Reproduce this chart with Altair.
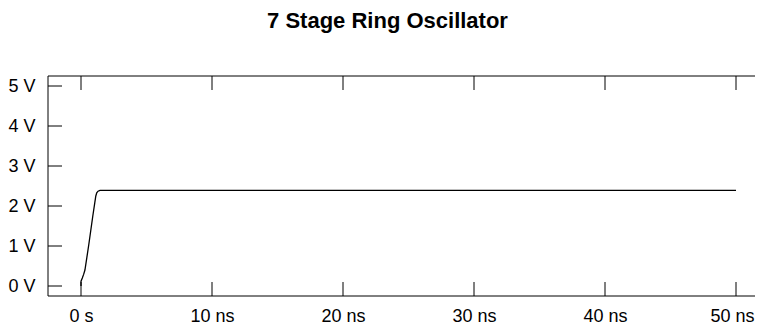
import altair as alt
import pandas as pd

# waveform samples (time in ns, voltage in V)
time_ns = [0.0, 0.0, 0.1, 0.2, 0.3, 0.45, 0.6, 0.75, 0.9, 1.05, 1.13, 1.2, 1.3, 1.45, 50.0]
volts = [0.0, 0.12, 0.2, 0.29, 0.4, 0.72, 1.05, 1.4, 1.75, 2.08, 2.25, 2.33, 2.37, 2.39, 2.39]

x_ticks = [0, 10, 20, 30, 40, 50]
y_ticks = [0, 1, 2, 3, 4, 5]

W, H = 707, 220
TL = 14  # inward tick length
FONT = "Liberation Sans"

wave = pd.DataFrame({"t": time_ns, "v": volts, "i": list(range(len(time_ns)))})
xt = pd.DataFrame({"t": x_ticks})
yt = pd.DataFrame({"v": y_ticks})
one = pd.DataFrame({"k": [0]})

xscale = alt.Scale(domain=[-2.52, 51.45], nice=False, zero=False)
yscale = alt.Scale(domain=[-0.25, 5.25], nice=False, zero=False)

xaxis = alt.Axis(values=x_ticks, title=None, ticks=False, domain=False, grid=False,
                 labelExpr="datum.value == 0 ? '0 s' : datum.value + ' ns'",
                 labelFont=FONT, labelFontSize=18, labelColor="black", labelPadding=11,
                 labelOffset={"condition": {"test": "datum.value == 50", "value": -4},
                              "value": 0})
yaxis = alt.Axis(values=y_ticks, title=None, ticks=False, domain=False, grid=False,
                 labelExpr="datum.value + ' V'",
                 labelFont=FONT, labelFontSize=18, labelColor="black", labelPadding=13)

line = alt.Chart(wave).mark_line(color="black", strokeWidth=1.3).encode(
    x=alt.X("t:Q", scale=xscale, axis=xaxis),
    y=alt.Y("v:Q", scale=yscale, axis=yaxis),
    order="i:O",
)

tick_style = dict(color="black", strokeWidth=1)
left_ticks = alt.Chart(yt).mark_rule(**tick_style).encode(
    y=alt.Y("v:Q", scale=yscale), x=alt.value(0), x2=alt.value(TL))
bottom_ticks = alt.Chart(xt).mark_rule(**tick_style).encode(
    x=alt.X("t:Q", scale=xscale), y=alt.value(H), y2=alt.value(H - TL))
top_ticks = alt.Chart(xt).mark_rule(**tick_style).encode(
    x=alt.X("t:Q", scale=xscale), y=alt.value(0), y2=alt.value(TL))

# frame: top, bottom and left edges (the right edge lies beyond the window)
top_edge = alt.Chart(one).mark_rule(**tick_style).encode(
    x=alt.value(0), x2=alt.value(W), y=alt.value(0))
bottom_edge = alt.Chart(one).mark_rule(**tick_style).encode(
    x=alt.value(0), x2=alt.value(W), y=alt.value(H))
left_edge = alt.Chart(one).mark_rule(**tick_style).encode(
    x=alt.value(0), y=alt.value(0), y2=alt.value(H))

chart = alt.layer(line, left_ticks, bottom_ticks, top_ticks,
                  top_edge, bottom_edge, left_edge).properties(
    width=W,
    height=H,
    title=alt.TitleParams("7 Stage Ring Oscillator", font=FONT, fontSize=22,
                          fontWeight="bold", color="black", anchor="middle",
                          baseline="alphabetic", offset=26, dx=-14),
    autosize=alt.AutoSizeParams(type="none"),
    padding={"left": 40, "top": 68, "right": 0, "bottom": 32},
).configure(background="white").configure_view(stroke=None)

chart.save("out.html", embed_options={"renderer": "svg", "actions": False})
